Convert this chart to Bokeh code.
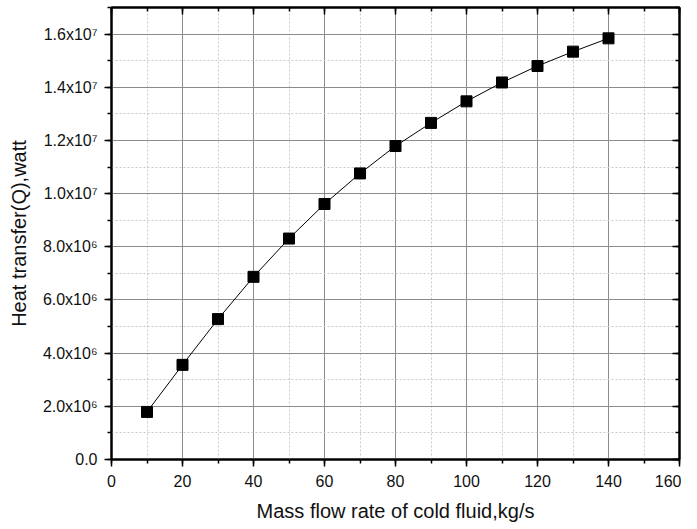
from bokeh.plotting import figure
from bokeh.models import (LinearAxis, SingleIntervalTicker, CustomJSTickFormatter, Range1d,
                          CustomLabelingPolicy)
from bokeh.embed import file_html
from bokeh.resources import INLINE

mass_flow = [10, 20, 30, 40, 50, 60, 70, 80, 90, 100, 110, 120, 130, 140]
heat_q = [1.79e6, 3.56e6, 5.28e6, 6.87e6, 8.31e6, 9.61e6, 10.76e6, 11.79e6,
          12.66e6, 13.47e6, 14.18e6, 14.80e6, 15.34e6, 15.84e6]

x_label = "Mass flow rate of cold fluid,kg/s"
y_label = "Heat transfer(Q),watt"

FONT = "Liberation Sans"

p = figure(frame_width=568, frame_height=452, output_backend="svg", toolbar_location=None,
           x_range=Range1d(0, 160), y_range=Range1d(0, 1.7e7),
           min_border_left=111, min_border_right=2, min_border_top=7, min_border_bottom=54,
           x_axis_label=x_label, y_axis_label=y_label)
p.background_fill_color = "white"
p.border_fill_color = "white"
p.outline_line_color = "black"
p.outline_line_width = 2

xt = SingleIntervalTicker(interval=20, num_minor_ticks=2)
yt = SingleIntervalTicker(interval=2e6, num_minor_ticks=2)

fmt = CustomJSTickFormatter(code="""
if (Math.abs(tick) < 1e-9) return "0.0";
const e = Math.floor(Math.log10(Math.abs(tick)) + 1e-9);
const m = tick / Math.pow(10, e);
const sup = {"0":"\u2070","1":"\u00b9","2":"\u00b2","3":"\u00b3","4":"\u2074","5":"\u2075","6":"\u2076","7":"\u2077","8":"\u2078","9":"\u2079"};
let s = "";
for (const c of String(e)) s += sup[c];
return m.toFixed(1) + "x10" + s;
""")

xa = p.xaxis[0]
ya = p.yaxis[0]
xa.ticker = xt
ya.ticker = yt
ya.formatter = fmt
for ax in (xa, ya):
    ax.axis_line_color = "black"
    ax.axis_line_width = 2
    ax.major_tick_line_color = "black"
    ax.major_tick_line_width = 1.5
    ax.minor_tick_line_color = "black"
    ax.minor_tick_line_width = 1.5
    ax.major_tick_out = 7
    ax.major_tick_in = 0
    ax.minor_tick_out = 4
    ax.minor_tick_in = 0
    ax.major_label_text_font = FONT
    ax.major_label_text_font_size = "16px"
    ax.major_label_text_color = "#111111"
    ax.axis_label_text_font = FONT
    ax.axis_label_text_font_size = "20px"
    ax.axis_label_text_font_style = "normal"
    ax.axis_label_text_color = "#111111"
xa.major_label_standoff = 8
xa.axis_label_standoff = 10
ya.major_label_standoff = 7
ya.axis_label_standoff = 10

# mirror axes (top / right) with inward ticks, no labels
no_labels = CustomLabelingPolicy(code="""
const all = [...indices];
for (const i of all) indices.unset(i);
return indices;
""")
top = LinearAxis(ticker=SingleIntervalTicker(interval=20, num_minor_ticks=2))
right = LinearAxis(ticker=SingleIntervalTicker(interval=2e6, num_minor_ticks=2))
for ax in (top, right):
    ax.axis_line_color = "black"
    ax.axis_line_width = 2
    ax.major_tick_line_color = "black"
    ax.major_tick_line_width = 1.5
    ax.minor_tick_line_color = "black"
    ax.minor_tick_line_width = 1.5
    ax.major_tick_out = 0
    ax.major_tick_in = 7
    ax.minor_tick_out = 0
    ax.minor_tick_in = 4
    ax.major_label_text_font_size = "0px"
    ax.major_label_standoff = 0
    ax.major_label_policy = no_labels
p.add_layout(top, "above")
p.add_layout(right, "right")

for g, t in ((p.xgrid[0], xt), (p.ygrid[0], yt)):
    g.ticker = t
    g.grid_line_color = "#8c8c8c"
    g.grid_line_width = 1
    g.minor_grid_line_color = "#c8c8c8"
    g.minor_grid_line_dash = "2 2"
    g.minor_grid_line_width = 1

p.line(mass_flow, heat_q, line_color="black", line_width=1)
p.scatter(mass_flow, heat_q, marker="square", size=11, fill_color="black", line_color="black")

open("out.html", "w").write(file_html(p, INLINE))
